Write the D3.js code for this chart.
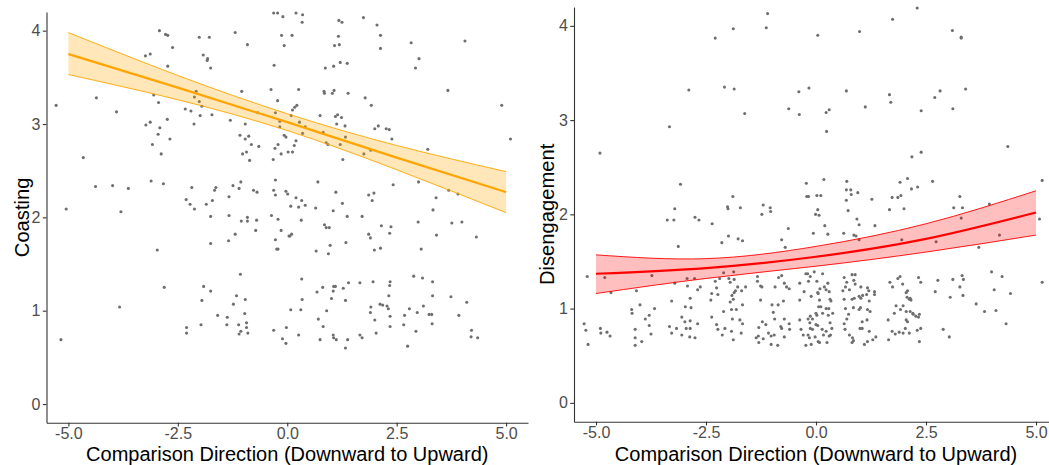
<!DOCTYPE html>
<html>
<head>
<meta charset="utf-8">
<script src="https://cdn.jsdelivr.net/npm/d3@7"></script>
<style>
  body { margin: 0; background: #fff; }
  svg { display: block; font-family: "Liberation Sans", Arial, sans-serif; }
</style>
</head>
<body>
<svg id="chart" width="1049" height="465"></svg>
<script>
// Tick values shared by both panels
const xTicks = [-5, -2.5, 0, 2.5, 5];
const yTicks = [0, 1, 2, 3, 4];
const xTitle = "Comparison Direction (Downward to Upward)";

// Observed responses: [comparison direction, coasting]
const coastingPoints = [
  [-5.28,3.20],[-4.36,3.28],[-3.90,3.13],[-4.66,2.64],[-2.92,4.00],[-2.78,3.96],[-2.73,3.95],[-2.62,3.82],
  [-3.24,3.73],[-3.13,3.75],[-2.73,3.62],[-3.05,3.31],[-2.94,3.23],[-2.74,3.05],[-3.23,2.99],[-3.13,3.02],
  [-2.91,2.96],[-2.95,2.89],[-2.68,2.84],[-3.08,2.78],[-2.88,2.68],[-2.01,3.93],[-1.78,3.93],[-1.92,3.74],
  [-1.82,3.70],[-1.83,3.68],[-1.75,3.60],[-2.08,3.35],[-2.12,3.29],[-2.01,3.24],[-1.95,3.19],[-2.33,3.16],
  [-2.20,3.14],[-1.99,3.09],[-1.72,3.10],[-2.13,3.00],[-1.19,3.98],[-0.91,3.85],[-0.31,4.19],[-0.22,4.19],
  [-0.10,4.15],[-0.13,3.95],[-0.07,3.84],[-0.30,3.63],[-1.04,3.35],[-0.37,3.37],[-0.22,3.25],[-1.30,3.04],
  [-0.96,3.00],[-0.67,3.12],[-0.27,3.12],[-0.17,3.03],[-0.17,2.97],[-0.07,2.88],[-0.03,2.86],[-1.08,2.88],
  [-0.96,2.84],[-0.88,2.87],[-0.82,2.78],[-0.65,2.76],[-1.02,2.68],[-0.93,2.70],[-0.86,2.61],[-0.28,2.74],
  [-0.21,2.78],[-0.14,2.68],[-0.32,2.62],[0.02,2.70],[-3.11,2.39],[-1.06,2.38],[-0.27,2.40],
  [0.20,4.19],[0.35,4.17],[0.34,4.09],[0.11,3.95],[1.18,4.11],[1.25,4.09],[1.74,4.14],[2.05,4.06],
  [2.13,3.95],[1.17,3.94],[1.08,3.84],[1.19,3.85],[2.13,3.81],[2.83,3.87],[4.06,3.89],[3.01,3.70],
  [2.93,3.60],[0.87,3.60],[1.06,3.62],[1.21,3.66],[1.37,3.65],[0.26,3.37],[0.84,3.35],[0.85,3.33],
  [1.03,3.33],[1.07,3.36],[1.39,3.33],[1.78,3.28],[1.92,3.20],[3.67,3.36],[4.90,3.20],[5.10,2.84],
  [0.22,3.20],[0.17,3.18],[0.12,3.15],[0.09,3.09],[0.28,3.02],[0.41,2.97],[0.35,2.90],[0.20,2.82],
  [0.16,2.77],[0.12,2.70],[0.75,3.09],[1.10,3.08],[1.15,3.10],[1.24,3.07],[1.13,3.00],[1.32,2.98],
  [0.82,2.91],[1.33,2.86],[0.89,2.80],[0.93,2.78],[1.21,2.78],[1.91,2.72],[1.75,2.68],[1.27,2.62],
  [2.00,2.95],[2.08,2.98],[2.26,2.95],[2.33,2.94],[2.39,2.84],[3.21,2.73],[3.00,2.38],[0.70,2.38],
  [-4.38,2.33],[-3.99,2.34],[-3.63,2.31],[-2.83,2.36],[-5.05,2.09],[-3.80,2.06],[-2.18,2.32],[-1.63,2.32],
  [-1.66,2.29],[-1.24,2.34],[-1.10,2.31],[-1.33,2.22],[-1.71,2.18],[-1.85,2.14],[-2.31,2.19],[-2.22,2.14],
  [-2.12,2.09],[-0.77,2.29],[-0.69,2.27],[-0.31,2.29],[-0.27,2.24],[-0.03,2.28],[0.01,2.25],[-1.75,2.01],
  [-1.33,2.02],[-1.05,1.96],[-0.91,2.00],[-0.91,1.96],[-0.70,1.97],[-0.36,2.02],[-0.21,1.98],[-0.72,1.86],
  [-1.19,1.82],[-1.34,1.75],[-1.75,1.72],[-0.14,1.86],[-0.27,1.76],[-0.24,1.66],[-0.21,1.66],[0.04,1.80],
  [-2.97,1.65],[-1.07,1.39],[-2.81,1.25],[-1.91,1.26],[-1.75,1.21],[-1.95,1.11],[-1.16,1.16],[-0.96,1.12],
  [-1.23,1.07],[-0.97,0.97],[-3.83,1.04],[-1.59,0.95],[-1.37,0.93],[-1.97,0.85],[-1.38,0.85],[-1.11,0.85],
  [-0.93,0.87],[-0.93,0.82],[-0.90,0.76],[-1.06,0.78],[-1.10,0.75],[-2.30,0.82],[-2.30,0.76],[-5.17,0.69],
  [-0.31,0.79],[-0.11,0.70],[-0.03,0.65],[-0.02,0.82],
  [2.42,2.35],[0.20,2.21],[0.33,2.18],[0.41,2.13],[0.26,2.11],[0.08,2.12],[1.11,2.27],[1.26,2.15],
  [0.65,2.10],[1.05,2.07],[1.37,2.01],[1.71,2.01],[1.86,2.24],[1.98,2.26],[1.94,2.18],[0.32,1.97],
  [0.85,1.92],[0.89,1.89],[0.96,1.89],[0.10,1.82],[0.06,1.80],[2.15,1.91],[2.37,1.90],[1.86,1.82],
  [1.90,1.78],[2.34,1.83],[1.34,1.73],[0.98,1.70],[0.66,1.64],[0.94,1.61],[1.99,1.65],[2.13,1.67],
  [3.40,2.21],[3.33,2.08],[3.69,2.29],[3.90,2.25],[2.99,1.95],[3.41,1.81],[3.76,1.94],[3.99,1.95],
  [4.32,1.79],[3.06,1.66],
  [0.33,1.34],[0.81,1.25],[0.68,1.20],[1.06,1.26],[1.10,1.26],[1.05,1.21],[1.28,1.24],[1.40,1.30],
  [1.66,1.30],[1.96,1.31],[2.35,1.31],[2.34,1.27],[1.01,1.13],[1.33,1.11],[0.34,1.12],[0.08,1.01],
  [0.31,1.01],[0.90,1.00],[2.32,1.16],[1.91,1.04],[1.90,0.98],[2.12,1.07],[2.18,1.06],[2.28,1.05],
  [2.31,1.02],[2.00,0.90],[2.35,0.94],[2.35,0.83],[0.71,0.91],[0.82,0.83],[0.26,0.74],[0.75,0.69],
  [1.05,0.74],[1.06,0.71],[1.12,0.69],[1.38,0.69],[1.33,0.60],[1.66,0.74],[1.71,0.71],[2.03,0.76],
  [2.89,1.37],[3.09,1.35],[3.32,1.31],[3.32,1.16],[3.74,1.15],[4.10,1.09],[2.79,1.02],[2.68,0.95],
  [2.97,0.98],[3.11,1.05],[3.24,0.96],[3.30,0.96],[3.31,0.86],[3.92,0.95],[2.66,0.85],[2.94,0.78],
  [2.75,0.62],[4.21,0.79],[4.20,0.72],[4.35,0.71]
];

// Observed responses: [comparison direction, disengagement]
const disengagementPoints = [
  [-1.10,4.13],[-1.88,3.97],[-1.13,3.98],[-2.29,3.87],[-2.89,3.32],[-2.08,3.35],[-1.86,3.33],[-1.62,3.07],
  [-3.33,2.93],[-4.91,2.65],[-3.08,2.32],[-1.89,2.19],[-3.21,2.06],[-3.38,1.94],[-3.23,1.94],[-2.75,1.97],
  [-2.66,1.94],[-2.36,1.90],[-2.01,2.08],[-2.00,2.06],[-1.72,2.07],[-1.20,2.10],[-1.04,2.07],[-1.03,2.03],
  [-1.23,2.00],[-0.62,3.12],[-0.38,3.06],[-0.39,3.30],[-0.16,3.34],[-0.22,2.33],[-0.21,2.19],[-0.17,2.19],
  [-0.63,1.85],[-3.13,1.66],[-2.14,1.70],[-1.99,1.77],[-1.77,1.74],[-1.67,1.72],[-0.78,1.73],[-0.70,1.65],
  [2.30,4.19],[1.74,4.07],[0.04,3.90],[0.99,3.94],[3.10,3.95],[3.30,3.88],[3.30,3.87],[0.69,3.31],
  [1.67,3.27],[1.70,3.19],[1.12,3.14],[0.23,3.08],[0.30,3.11],[0.24,2.88],[2.39,3.10],[2.70,3.24],
  [2.82,3.31],[3.11,3.12],[3.40,3.33],[2.18,2.61],[2.39,2.66],[4.36,2.72],[5.14,2.36],[0.18,2.37],
  [0.02,2.20],[0.11,2.20],[0.70,2.35],[0.69,2.26],[0.79,2.26],[0.80,2.21],[0.95,2.23],[0.69,2.15],
  [1.27,2.16],[0.04,2.05],[-0.01,2.00],[0.07,1.99],[0.73,2.04],[0.93,1.95],[0.98,1.89],[0.20,1.88],
  [1.34,1.88],[-0.06,1.80],[0.27,1.79],[0.63,1.80],[0.86,1.78],[0.91,1.77],[0.98,1.73],[1.67,2.05],
  [1.73,2.18],[1.86,2.18],[1.93,2.20],[1.91,2.34],[2.08,2.38],[2.17,2.27],[2.31,2.29],[2.00,2.06],
  [2.65,2.35],[3.27,2.19],[3.13,2.07],[3.33,2.07],[3.30,1.96],[3.94,2.11],[5.08,1.95],[4.17,1.78],
  [3.70,1.65],[1.95,1.73],[2.73,1.71],
  [-5.20,1.34],[-4.80,1.33],[-4.66,1.17],[-3.73,1.35],[-5.27,0.84],[-5.23,0.77],[-5.18,0.62],[-4.90,0.79],
  [-4.89,0.74],[-4.75,0.75],[-4.68,0.71],[-4.19,0.99],[-4.18,0.95],[-4.08,1.19],[-4.00,1.04],[-3.67,1.00],
  [-4.11,0.78],[-4.11,0.69],[-4.11,0.61],[-3.96,0.65],[-3.88,0.89],[-3.79,0.93],[-3.79,0.82],[-3.75,0.73],
  [-3.28,1.08],[-3.21,1.27],[-3.33,0.81],[-3.28,0.74],[-3.17,0.79],[-3.05,0.72],[-2.87,0.70],[-2.75,0.69],
  [-3.05,0.91],[-2.98,0.86],[-2.95,0.79],[-2.86,0.79],[-2.86,0.87],[-2.69,0.84],[-2.97,1.02],[-2.84,1.01],
  [-2.86,1.11],[-2.92,1.24],[-2.93,1.32],[-2.76,1.32],[-2.69,1.20],[-2.63,1.23],[-2.39,1.09],[-2.37,1.16],
  [-2.26,1.22],[-2.29,1.29],[-2.19,1.32],[-2.10,1.38],[-2.23,1.15],[-2.37,0.91],[-2.26,0.83],[-2.23,0.78],
  [-2.07,0.79],[-2.10,0.97],[-2.13,0.72],[-1.98,1.32],[-1.95,1.28],[-1.87,1.39],[-1.86,1.31],[-1.95,1.07],
  [-1.91,1.14],[-1.88,1.10],[-1.86,1.17],[-1.83,1.19],[-1.78,1.23],[-1.69,1.19],[-1.60,1.23],[-1.92,0.99],
  [-1.81,0.99],[-1.67,1.04],[-1.90,0.89],[-1.73,0.88],[-1.67,0.84],[-1.92,0.76],[-1.88,0.67],[-1.70,0.74],
  [-1.33,1.34],[-1.33,1.29],[-1.26,1.24],[-1.23,1.23],[-1.26,1.09],[-1.00,1.04],[-0.97,0.96],[-0.86,1.04],
  [-0.74,1.08],[-0.85,1.33],[-0.78,1.35],[-0.93,1.23],[-0.72,1.27],[-0.67,1.23],[-0.61,1.21],[-1.22,0.86],
  [-1.30,0.80],[-1.14,0.83],[-1.08,0.74],[-1.31,0.71],[-1.36,0.69],[-1.30,0.64],[-1.20,0.68],[-1.02,0.71],
  [-1.02,0.62],[-0.95,0.72],[-0.87,0.61],[-0.72,0.70],[-0.94,0.89],[-0.80,0.81],[-0.78,0.79],[-0.72,0.89],
  [-0.60,0.78],[-0.61,0.84],[-0.37,1.27],[-0.37,1.09],[-0.27,1.18],[-0.23,1.37],[-0.19,1.37],[-0.13,1.34],
  [-0.17,1.29],[-0.37,0.88],[-0.34,0.78],[-0.29,0.72],[-0.23,0.61],[-0.18,0.89],[-0.13,0.92],[-0.13,0.79],
  [-0.18,0.72],
  [-0.04,1.39],[0.02,1.29],[0.15,1.37],[0.27,1.27],[0.19,1.23],[0.23,1.20],[0.30,1.18],[0.09,1.21],
  [0.04,1.17],[0.05,1.16],[-0.11,1.13],[0.08,1.09],[0.32,1.10],[0.34,1.08],[0.06,1.02],[0.11,1.02],
  [0.23,1.00],[0.29,1.00],[0.00,0.95],[0.02,0.93],[-0.08,0.89],[-0.14,0.85],[0.15,0.95],[0.28,0.93],
  [0.38,0.95],[0.00,0.83],[0.04,0.82],[0.14,0.78],[-0.08,0.78],[0.23,0.76],[0.36,0.79],[0.32,0.85],
  [0.17,0.72],[0.33,0.72],[-0.02,0.70],[0.08,0.64],[0.05,0.65],[0.25,0.64],[-0.15,0.69],[-0.11,0.62],
  [0.30,0.71],
  [0.64,1.33],[0.70,1.28],[0.67,1.23],[0.82,1.36],[0.89,1.36],[0.86,1.30],[0.89,1.26],[0.76,1.20],
  [0.61,1.19],[1.02,1.23],[1.17,1.22],[1.20,1.19],[1.15,1.15],[1.06,1.14],[0.98,1.13],[1.33,1.18],
  [1.33,1.15],[1.02,1.11],[0.82,1.10],[0.87,1.11],[0.64,1.10],[0.67,1.00],[0.74,0.94],[0.85,1.01],
  [0.98,0.99],[1.01,1.01],[1.17,0.99],[1.23,0.97],[1.21,1.08],[0.70,0.89],[0.64,0.84],[0.66,0.78],
  [0.76,0.72],[0.83,0.69],[1.00,0.79],[1.05,0.79],[1.16,0.88],[1.21,0.76],[1.05,0.86],[0.82,0.64],
  [0.85,0.66],[1.10,0.62],[1.17,0.65],[1.29,0.67],[1.36,0.70],
  [1.68,1.28],[1.74,1.23],[1.86,1.32],[1.91,1.34],[1.97,1.26],[2.08,1.19],[2.05,1.17],[2.07,1.12],
  [2.12,1.10],[2.16,1.09],[2.14,1.11],[2.33,1.33],[2.38,1.28],[1.82,1.03],[1.98,1.03],[1.92,0.99],
  [2.05,0.97],[2.14,0.97],[2.20,0.95],[2.27,0.92],[2.33,0.91],[2.35,0.94],[2.21,0.94],[1.78,0.95],
  [1.64,0.88],[2.05,0.88],[2.08,0.86],[2.03,0.79],[1.89,0.75],[1.98,0.74],[1.73,0.76],[1.80,0.73],
  [2.12,0.74],[2.30,0.77],[2.38,0.79],[1.65,0.67],[2.35,0.65],
  [2.77,1.30],[2.71,1.18],[3.11,1.31],[3.32,1.35],[3.35,1.31],[3.27,1.23],[3.05,1.12],[3.34,1.14],
  [2.89,0.78],[3.03,0.70],[3.99,1.39],[4.23,1.34],[4.05,1.20],[4.42,1.16],[3.64,1.05],[3.83,0.97],
  [4.09,0.98],[4.32,0.84],[5.14,1.28]
];

// Fitted model and 95% confidence band, sampled along the x range
const fitX = [-5, -2.5, 0, 2.5, 5];
const coastingFit   = [3.75, 3.39, 3.02, 2.64, 2.27];
const coastingLower = [3.53, 3.26, 2.93, 2.51, 2.05];
const coastingUpper = [3.98, 3.52, 3.11, 2.77, 2.49];
const disengFit   = [1.37, 1.43, 1.55, 1.74, 2.02];
const disengLower = [1.16, 1.32, 1.45, 1.60, 1.78];
const disengUpper = [1.57, 1.53, 1.66, 1.90, 2.25];

const svg = d3.select("#chart");

const panels = [
  {
    title: "Coasting", points: coastingPoints,
    fit: coastingFit, lower: coastingLower, upper: coastingUpper,
    color: "#FFA500", fillOpacity: 0.27,
    left: 46.5, right: 528, top: 12, bottom: 422.7,
    yTitleX: 28.5, xTitleY: 461
  },
  {
    title: "Disengagement", points: disengagementPoints,
    fit: disengFit, lower: disengLower, upper: disengUpper,
    color: "#FF0000", fillOpacity: 0.25,
    left: 574, right: 1058, top: 7, bottom: 421.7,
    yTitleX: 554, xTitleY: 460.5
  }
];

panels.forEach(p => {
  const x = d3.scaleLinear().domain([-5.5, 5.5]).range([p.left, p.right]);
  const y = d3.scaleLinear().domain([-0.2, 4.2]).range([p.bottom, p.top]);
  const g = svg.append("g");

  // scatter of raw observations
  g.append("g").selectAll("circle")
    .data(p.points)
    .join("circle")
    .attr("cx", d => x(d[0]))
    .attr("cy", d => y(d[1]))
    .attr("r", 1.55)
    .attr("fill", "#6e6e6e");

  const band = fitX.map((v, i) => ({ x: v, fit: p.fit[i], lo: p.lower[i], hi: p.upper[i] }));
  const curve = d3.curveNatural;

  // confidence band
  g.append("path")
    .datum(band)
    .attr("d", d3.area().curve(curve).x(d => x(d.x)).y0(d => y(d.lo)).y1(d => y(d.hi)))
    .attr("fill", p.color)
    .attr("fill-opacity", p.fillOpacity)
    .attr("stroke", "none");

  ["lo", "hi"].forEach(k => {
    g.append("path")
      .datum(band)
      .attr("d", d3.line().curve(curve).x(d => x(d.x)).y(d => y(d[k])))
      .attr("fill", "none")
      .attr("stroke", p.color)
      .attr("stroke-width", 0.9);
  });

  // fitted curve
  g.append("path")
    .datum(band)
    .attr("d", d3.line().curve(curve).x(d => x(d.x)).y(d => y(d.fit)))
    .attr("fill", "none")
    .attr("stroke", p.color)
    .attr("stroke-width", 2.2);

  // axes
  const xAxis = d3.axisBottom(x).tickValues(xTicks).tickFormat(d => d.toFixed(1))
    .tickSizeInner(3.7).tickSizeOuter(0).tickPadding(1.5);
  const yAxis = d3.axisLeft(y).tickValues(yTicks).tickFormat(d3.format("d"))
    .tickSizeInner(3.7).tickSizeOuter(0).tickPadding(2.5);

  const gx = g.append("g").attr("transform", `translate(0,${p.bottom})`).call(xAxis);
  const gy = g.append("g").attr("transform", `translate(${p.left},0)`).call(yAxis);

  [gx, gy].forEach(a => {
    a.select(".domain").attr("stroke", "#333").attr("stroke-width", 1.1);
    a.selectAll(".tick line").attr("stroke", "#333").attr("stroke-width", 1.1);
    a.selectAll(".tick text").attr("fill", "#4D4D4D")
      .style("font-size", "16px").style("font-family", '"Liberation Sans", Arial, sans-serif');
  });

  // axis titles
  g.append("text")
    .attr("x", (p.left + p.right) / 2)
    .attr("y", p.xTitleY)
    .attr("text-anchor", "middle")
    .style("font-size", "20px")
    .attr("fill", "#000")
    .text(xTitle);

  g.append("text")
    .attr("transform", `translate(${p.yTitleX},${(p.top + p.bottom) / 2}) rotate(-90)`)
    .attr("text-anchor", "middle")
    .style("font-size", "20.2px")
    .attr("fill", "#000")
    .text(p.title);
});
</script>
</body>
</html>
